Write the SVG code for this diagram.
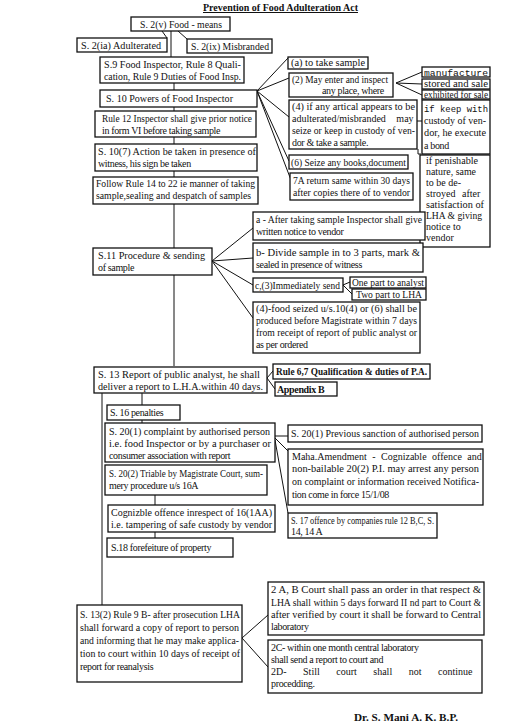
<svg xmlns="http://www.w3.org/2000/svg" width="513" height="725" viewBox="0 0 513 725">
<style>
rect{fill:#fff;stroke:#111;stroke-width:1.3}
text{font-family:"Liberation Serif","Times New Roman",serif;font-size:10px;fill:#111}
.t{letter-spacing:-0.35px}
.b{font-weight:bold}
.m{font-family:"Liberation Mono","Courier New",monospace;font-size:9px}
.c line,.c path{stroke:#111;stroke-width:1;fill:none}
</style>
<rect x="0" y="0" width="513" height="725" style="stroke:none"/>
<text x="203" y="11" class="b" textLength="155" lengthAdjust="spacingAndGlyphs" text-decoration="underline">Prevention of Food Adulteration Act</text>
<g class="c" id="connectors">
<path d="M171 31V57M174 83V366"/>
<line x1="162" y1="31" x2="167" y2="38"/>
<line x1="178" y1="31" x2="187" y2="39"/>
<line x1="257" y1="91" x2="288" y2="58"/>
<line x1="257" y1="91" x2="289" y2="78"/>
<line x1="257" y1="91" x2="289" y2="117"/>
<line x1="257" y1="91" x2="289" y2="161"/>
<line x1="257" y1="91" x2="291" y2="180"/>
<line x1="396" y1="83" x2="422" y2="72"/>
<line x1="396" y1="83" x2="422" y2="84"/>
<line x1="396" y1="83" x2="422" y2="95"/>
<line x1="417" y1="121" x2="422" y2="121"/>
<path d="M418 149V154H421"/>
<line x1="212" y1="261" x2="253" y2="228"/>
<line x1="212" y1="261" x2="253" y2="258"/>
<line x1="212" y1="261" x2="253" y2="285"/>
<line x1="212" y1="261" x2="253" y2="318"/>
<line x1="343" y1="285" x2="350" y2="282"/>
<line x1="343" y1="285" x2="352" y2="294"/>
<line x1="267" y1="378" x2="273" y2="371"/>
<line x1="267" y1="378" x2="275" y2="389"/>
<path d="M102 393V605M142 393V405M142 420V423M155 495V505M155 532V538"/>
<line x1="275" y1="436" x2="288" y2="436"/>
<line x1="275" y1="438" x2="288" y2="451"/>
<line x1="275" y1="440" x2="288" y2="513"/>
<line x1="242" y1="638" x2="268" y2="615"/>
<line x1="242" y1="638" x2="268" y2="667"/>
</g>
<g id="food"><rect x="131" y="17" width="99" height="14"/><text x="140" y="28" textLength="82" lengthAdjust="spacingAndGlyphs">S. 2(v) Food - means</text></g>
<g id="adulterated"><rect x="77" y="38" width="90" height="14"/><text x="81" y="49" textLength="80" lengthAdjust="spacingAndGlyphs">S. 2(ia) Adulterated</text></g>
<g id="misbranded"><rect x="187" y="39" width="85" height="14"/><text x="191" y="50" textLength="78" lengthAdjust="spacingAndGlyphs">S. 2(ix) Misbranded</text></g>
<g id="s9"><rect x="100" y="57" width="144" height="26"/><text x="104" y="68" textLength="137" lengthAdjust="spacingAndGlyphs">S.9 Food Inspector, Rule 8 Quali-</text><text x="104" y="80" textLength="137" lengthAdjust="spacingAndGlyphs">cation, Rule 9 Duties of Food Insp.</text></g>
<g id="s10"><rect x="100" y="90" width="157" height="17"/><text x="106" y="102" textLength="127" lengthAdjust="spacingAndGlyphs">S. 10 Powers of Food Inspector</text></g>
<g id="rule12"><rect x="95" y="111" width="161" height="26"/><text x="102" y="122" textLength="150" lengthAdjust="spacingAndGlyphs">Rule 12 Inspector shall give prior notice</text><text x="102" y="134" class="t">in form VI before taking sample</text></g>
<g id="s107"><rect x="95" y="144" width="162" height="27"/><text x="98" y="155" textLength="158" lengthAdjust="spacingAndGlyphs">S. 10(7) Action be taken in presence of</text><text x="98" y="167" class="t">witness, his sign be taken</text></g>
<g id="follow"><rect x="93" y="177" width="165" height="27"/><text x="96" y="187" textLength="159" lengthAdjust="spacingAndGlyphs">Follow Rule 14 to 22 ie manner of taking</text><text x="96" y="199" textLength="155" lengthAdjust="spacingAndGlyphs">sample,sealing and despatch of samples</text></g>
<g id="take"><rect x="288" y="57" width="80" height="12"/><text x="291" y="66" textLength="74" lengthAdjust="spacingAndGlyphs">(a) to take sample</text></g>
<g id="enter"><rect x="289" y="73" width="104" height="24"/><text x="292" y="83" textLength="96" lengthAdjust="spacingAndGlyphs">(2) May enter and inspect</text><text x="322" y="94" class="t">any place, where</text></g>
<g id="manufacture"><rect x="422" y="67" width="68" height="10"/><text class="m" x="424" y="76" textLength="64" lengthAdjust="spacingAndGlyphs">manufacture</text></g>
<g id="stored"><rect x="422" y="79" width="68" height="10"/><text x="424" y="87" textLength="64" lengthAdjust="spacingAndGlyphs">stored and sale</text></g>
<g id="exhibited"><rect x="422" y="90" width="68" height="9"/><text x="424" y="98" textLength="64" lengthAdjust="spacingAndGlyphs">exhibited for sale</text></g>
<g id="artical"><rect x="289" y="100" width="128" height="49"/><text x="292" y="110" textLength="123" lengthAdjust="spacingAndGlyphs">(4) if any artical appears to be</text><text x="292" y="122" style="word-spacing:8px">adulterated/misbranded may</text><text x="292" y="134" textLength="123" lengthAdjust="spacingAndGlyphs">seize or keep in custody of ven-</text><text x="292" y="146" class="t">dor &amp; take a sample.</text></g>
<g id="keep"><rect x="422" y="100" width="68" height="54"/><text class="m" x="424" y="112" textLength="64" lengthAdjust="spacingAndGlyphs">if keep with</text><text x="424" y="124" textLength="62" lengthAdjust="spacingAndGlyphs">custody of ven-</text><text x="424" y="136" textLength="62" lengthAdjust="spacingAndGlyphs">dor, he execute</text><text x="424" y="149" class="t">a bond</text></g>
<g id="seize"><rect x="289" y="155" width="119" height="14"/><text x="291" y="166" textLength="115" lengthAdjust="spacingAndGlyphs">(6) Seize any books,document</text></g>
<g id="return"><rect x="290" y="173" width="123" height="27"/><text x="293" y="184" textLength="117" lengthAdjust="spacingAndGlyphs">7A return same within 30 days</text><text x="293" y="196" textLength="117" lengthAdjust="spacingAndGlyphs">after copies there of to vendor</text></g>
<g id="perishable"><rect x="420" y="155" width="70" height="92"/><text x="426" y="164" textLength="52" lengthAdjust="spacingAndGlyphs">if penishable</text><text x="426" y="175" textLength="50" lengthAdjust="spacingAndGlyphs">nature, same</text><text x="426" y="186">to be de-</text><text x="426" y="197" style="word-spacing:4px">stroyed after</text><text x="426" y="208" textLength="58" lengthAdjust="spacingAndGlyphs">satisfaction of</text><text x="426" y="219" textLength="56" lengthAdjust="spacingAndGlyphs">LHA &amp; giving</text><text x="426" y="230">notice to</text><text x="426" y="241">vendor</text></g>
<g id="s11"><rect x="93" y="248" width="119" height="27"/><text x="98" y="259" textLength="107" lengthAdjust="spacingAndGlyphs">S.11 Procedure &amp; sending</text><text x="98" y="271" class="t">of sample</text></g>
<g id="a"><rect x="253" y="212" width="172" height="28"/><text x="256" y="223" textLength="166" lengthAdjust="spacingAndGlyphs">a - After taking sample Inspector shall give</text><text x="256" y="235" class="t">written notice to vendor</text></g>
<g id="b"><rect x="253" y="243" width="170" height="29"/><text x="256" y="256" textLength="164" lengthAdjust="spacingAndGlyphs">b- Divide sample in to 3 parts, mark &amp;</text><text x="256" y="268" class="t">sealed in presence of witness</text></g>
<g id="c"><rect x="253" y="278" width="90" height="14"/><text x="255" y="289" textLength="85" lengthAdjust="spacingAndGlyphs">c,(3)Immediately send</text></g>
<g id="analyst"><rect x="350" y="277" width="76" height="11"/><text x="352" y="286" textLength="72" lengthAdjust="spacingAndGlyphs">One part to analyst</text></g>
<g id="lha"><rect x="352" y="289" width="74" height="11"/><text x="356" y="298" textLength="66" lengthAdjust="spacingAndGlyphs">Two part to LHA</text></g>
<g id="food4"><rect x="253" y="302" width="167" height="51"/><text x="256" y="312" textLength="161" lengthAdjust="spacingAndGlyphs">(4)-food seized u/s.10(4) or (6) shall be</text><text x="256" y="324" textLength="161" lengthAdjust="spacingAndGlyphs">produced before Magistrate within 7 days</text><text x="256" y="336" textLength="161" lengthAdjust="spacingAndGlyphs">from receipt of report of public analyst or</text><text x="256" y="348" class="t">as per ordered</text></g>
<g id="s13"><rect x="94" y="367" width="173" height="26"/><text x="98" y="378" textLength="162" lengthAdjust="spacingAndGlyphs">S. 13  Report of public analyst, he shall</text><text x="98" y="390" textLength="165" lengthAdjust="spacingAndGlyphs">deliver a report to L.H.A.within 40 days.</text></g>
<g id="rule67"><rect x="273" y="364" width="157" height="15"/><text x="276" y="375" class="b" textLength="151" lengthAdjust="spacingAndGlyphs">Rule 6,7 Qualification &amp; duties of P.A.</text></g>
<g id="appendix"><rect x="275" y="382" width="62" height="14"/><text x="277" y="393" class="b t">Appendix B</text></g>
<g id="s16"><rect x="107" y="405" width="73" height="15"/><text x="110" y="416" class="t">S. 16 penalties</text></g>
<g id="s201"><rect x="105" y="423" width="170" height="39"/><text x="109" y="435" textLength="161" lengthAdjust="spacingAndGlyphs">S. 20(1) complaint by authorised person</text><text x="109" y="447" textLength="162" lengthAdjust="spacingAndGlyphs">i.e. food Inspector or by a purchaser or</text><text x="109" y="459" class="t">consumer association with report</text></g>
<g id="sanction"><rect x="288" y="425" width="194" height="17"/><text x="291" y="437" textLength="188" lengthAdjust="spacingAndGlyphs">S. 20(1) Previous sanction of authorised person</text></g>
<g id="maha"><rect x="288" y="449" width="195" height="56"/><text x="292" y="460" style="word-spacing:3px">Maha.Amendment - Cognizable offence and</text><text x="292" y="472" textLength="187" lengthAdjust="spacingAndGlyphs">non-bailable 20(2) P.I. may arrest any person</text><text x="292" y="485" textLength="187" lengthAdjust="spacingAndGlyphs">on complaint or information received Notifica-</text><text x="292" y="498" class="t">tion come in force 15/1/08</text></g>
<g id="s202"><rect x="105" y="465" width="162" height="30"/><text x="109" y="477" textLength="154" lengthAdjust="spacingAndGlyphs">S. 20(2) Triable by Magistrate Court, sum-</text><text x="109" y="489" class="t">mery procedure u/s 16A</text></g>
<g id="cognizable"><rect x="108" y="505" width="167" height="27"/><text x="111" y="516" textLength="161" lengthAdjust="spacingAndGlyphs">Cognizble offence inrespect of 16(1AA)</text><text x="111" y="528" textLength="161" lengthAdjust="spacingAndGlyphs">i.e. tampering of safe custody by vendor</text></g>
<g id="s17"><rect x="288" y="513" width="149" height="25"/><text x="291" y="524" textLength="143" lengthAdjust="spacingAndGlyphs">S. 17 offence by companies rule 12 B,C, S.</text><text x="291" y="535" class="t">14, 14 A</text></g>
<g id="s18"><rect x="107" y="538" width="126" height="19"/><text x="111" y="551" class="t">S.18 forefeiture of property</text></g>
<g id="s132"><rect x="77" y="605" width="165" height="77"/><text x="80" y="618" textLength="160" lengthAdjust="spacingAndGlyphs">S. 13(2) Rule 9 B- after prosecution LHA</text><text x="80" y="631" textLength="159" lengthAdjust="spacingAndGlyphs">shall forward a copy of report to person</text><text x="80" y="644" textLength="159" lengthAdjust="spacingAndGlyphs">and informing that he may make applica-</text><text x="80" y="657" textLength="160" lengthAdjust="spacingAndGlyphs">tion to court within 10 days of receipt of</text><text x="80" y="670" class="t">report for reanalysis</text></g>
<g id="court"><rect x="268" y="582" width="216" height="53"/><text x="271" y="593" textLength="210" lengthAdjust="spacingAndGlyphs">2 A, B Court shall pass an order in that respect &amp;</text><text x="271" y="606" textLength="210" lengthAdjust="spacingAndGlyphs">LHA shall within 5 days forward II nd part to Court &amp;</text><text x="271" y="618" textLength="210" lengthAdjust="spacingAndGlyphs">after verified by court it shall be forward to Central</text><text x="271" y="630" class="t">laboratory</text></g>
<g id="central"><rect x="268" y="640" width="214" height="53"/><text x="271" y="651" class="t">2C- within one month central laboratory</text><text x="271" y="663" class="t">shall send a report to court and</text><text x="271" y="675" style="word-spacing:14px">2D- Still court shall not continue</text><text x="271" y="687" class="t">procedding.</text></g>
<text x="354" y="721" class="b" textLength="104" lengthAdjust="spacingAndGlyphs">Dr. S. Mani A. K. B.P.</text>
</svg>
